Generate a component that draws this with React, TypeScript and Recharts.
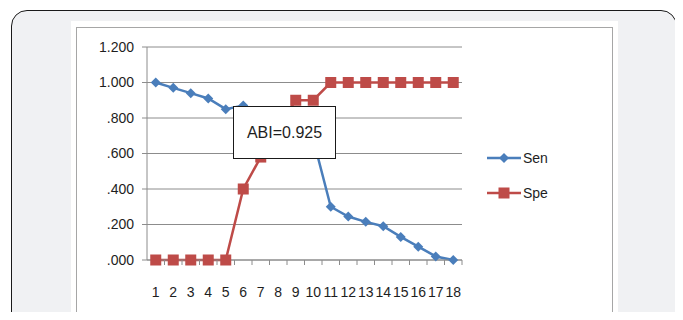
import React from "react";
import {
  LineChart,
  Line,
  XAxis,
  YAxis,
  CartesianGrid,
} from "recharts";

// values (7-10 of Sen and 8 of Spe sit behind the ABI box)
const categories = ["1", "2", "3", "4", "5", "6", "7", "8", "9", "10", "11", "12", "13", "14", "15", "16", "17", "18"];
const senValues = [1.0, 0.97, 0.94, 0.91, 0.85, 0.87, 0.83, 0.8, 0.76, 0.68, 0.3, 0.245, 0.215, 0.19, 0.13, 0.075, 0.02, 0.0];
const speValues = [0, 0, 0, 0, 0, 0.4, 0.58, 0.75, 0.9, 0.9, 1.0, 1.0, 1.0, 1.0, 1.0, 1.0, 1.0, 1.0];
const yTicks = [0, 0.2, 0.4, 0.6, 0.8, 1.0, 1.2];
const seriesNames = ["Sen", "Spe"];
const abiLabel = "ABI=0.925";

const BLUE = "#4a7ebb";
const RED = "#be4b48";
const FONT = "'Liberation Sans', Arial, sans-serif";
const BAND = 315 / 18;

const data = categories.map((c, i) => ({
  name: c,
  sen: senValues[i],
  spe: speValues[i],
}));

const fmtY = (v: number) => v.toFixed(3).replace(/^0/, "");

const Diamond = (props: any) => {
  const { cx, cy } = props;
  if (cx == null || cy == null) return null;
  const r = 5;
  return (
    <path
      d={`M${cx},${cy - r} L${cx + r},${cy} L${cx},${cy + r} L${cx - r},${cy} Z`}
      fill={BLUE}
    />
  );
};

const Square = (props: any) => {
  const { cx, cy } = props;
  if (cx == null || cy == null) return null;
  return <rect x={cx - 5.5} y={cy - 5.5} width={11} height={11} fill={RED} />;
};

// excel style: tick marks sit between categories
const XTick = (props: any) => {
  const { x, y, payload } = props;
  const half = BAND / 2;
  return (
    <g>
      <line x1={x + half} x2={x + half} y1={y - 8} y2={y - 3} stroke="#8c8c8c" />
      <text
        x={x}
        y={y + 29}
        textAnchor="middle"
        fontFamily={FONT}
        fontSize={14}
        fill="#1e1e1e"
      >
        {payload.value}
      </text>
    </g>
  );
};

const LegendBox = () => (
  <div style={{ fontFamily: FONT, fontSize: 14, color: "#1e1e1e" }}>
    {seriesNames.map((n, i) => (
      <div key={n} style={{ display: "flex", alignItems: "center", height: 35 }}>
        <svg width={36} height={14}>
          <line x1={0} x2={34} y1={7} y2={7} stroke={i === 0 ? BLUE : RED} strokeWidth={2.5} />
          {i === 0 ? (
            <path d="M17,2 L22,7 L17,12 L12,7 Z" fill={BLUE} />
          ) : (
            <rect x={11.5} y={1.5} width={11} height={11} fill={RED} />
          )}
        </svg>
        <span>{n}</span>
      </div>
    ))}
  </div>
);

export default function App() {
  return (
    <div
      style={{
        position: "relative",
        width: 683,
        height: 320,
        margin: -8,
        overflow: "hidden",
        background: "#fff",
      }}
    >
      <div
        style={{
          position: "absolute",
          left: 11,
          top: 10,
          width: 664,
          height: 360,
          border: "1.5px solid #1a1a1a",
          borderRadius: 16,
          background: "#f0f1f3",
        }}
      />
      <div
        style={{
          position: "absolute",
          left: 71,
          top: 21,
          width: 547,
          height: 320,
          background: "#fff",
        }}
      />
      <div
        style={{
          position: "absolute",
          left: 76,
          top: 27,
          width: 535,
          height: 320,
          border: "1px solid #a6a6a6",
        }}
      />
      <div style={{ position: "absolute", left: 0, top: 0 }}>
        <LineChart
          width={683}
          height={320}
          data={data}
          margin={{ top: 47, right: 221, left: 87, bottom: 30 }}
        >
          <CartesianGrid vertical={false} stroke="#8c8c8c" />
          <XAxis
            dataKey="name"
            stroke="#8c8c8c"
            tickLine={false}
            tick={<XTick />}
            interval={0}
            height={30}
            padding={{ left: BAND / 2, right: BAND / 2 }}
          />
          <YAxis
            width={60}
            domain={[0, 1.2]}
            ticks={yTicks}
            tickFormatter={fmtY}
            stroke="#8c8c8c"
            tickSize={5}
            tick={{ fill: "#1e1e1e", fontFamily: FONT, fontSize: 14, dx: -6 }}
            interval={0}
          />
          <Line
            dataKey="sen"
            name={seriesNames[0]}
            stroke={BLUE}
            strokeWidth={2.5}
            dot={<Diamond />}
            isAnimationActive={false}
          />
          <Line
            dataKey="spe"
            name={seriesNames[1]}
            stroke={RED}
            strokeWidth={2.5}
            dot={<Square />}
            isAnimationActive={false}
          />
        </LineChart>
      </div>
      <div style={{ position: "absolute", left: 487, top: 140 }}>
        <LegendBox />
      </div>
      <div
        style={{
          position: "absolute",
          left: 233,
          top: 106,
          width: 101,
          height: 51,
          border: "1px solid #1a1a1a",
          background: "#fff",
          fontFamily: FONT,
          fontSize: 16,
          color: "#1e1e1e",
          display: "flex",
          alignItems: "center",
          justifyContent: "center",
        }}
      >
        {abiLabel}
      </div>
    </div>
  );
}
